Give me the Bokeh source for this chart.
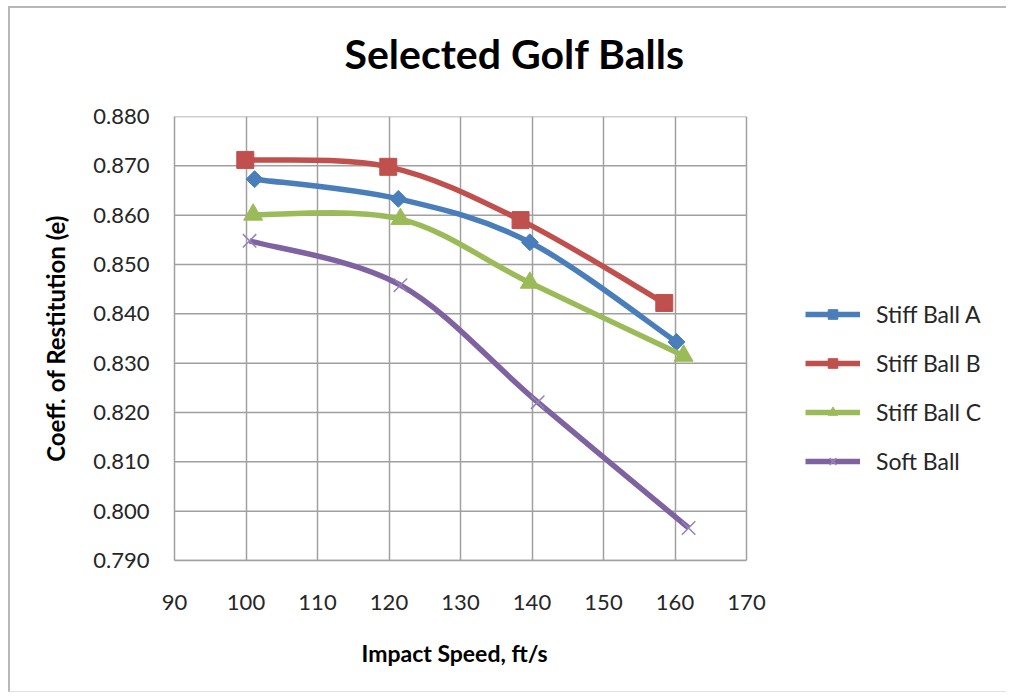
from bokeh.plotting import figure
from bokeh.models import (ColumnDataSource, Legend, LegendItem, FixedTicker,
                          CustomJSTickFormatter, Title)
from bokeh.embed import file_html
from bokeh.resources import INLINE
import numpy as np

# ---- data ----
series_names = ["Stiff Ball A", "Stiff Ball B", "Stiff Ball C", "Soft Ball"]
speed_a = [101.2, 121.3, 139.7, 160.2]
cor_a = [0.8673, 0.8633, 0.8545, 0.8343]
speed_b = [99.9, 119.9, 138.4, 158.5]
cor_b = [0.8712, 0.8698, 0.8590, 0.8422]
speed_c = [101.0, 121.6, 139.7, 161.2]
cor_c = [0.8601, 0.8592, 0.8463, 0.8315]
speed_soft = [100.5, 121.6, 140.8, 161.9]
cor_soft = [0.8548, 0.8458, 0.8221, 0.7966]

x_ticks = [90, 100, 110, 120, 130, 140, 150, 160, 170]
y_ticks = [0.79, 0.80, 0.81, 0.82, 0.83, 0.84, 0.85, 0.86, 0.87, 0.88]

colors = ["#4A7EBB", "#C0504D", "#9BBB59", "#7F63A1"]
markers = ["diamond", "square", "triangle", "x"]

FONT = "Lato"
GRID = "#a0a0a0"

X_MIN, X_MAX = x_ticks[0], x_ticks[-1]
# frame is widened to the right so the legend can sit inside it
W, LEFT = 998, 164
x_end = X_MIN + (W - LEFT) * (X_MAX - X_MIN) / 572.0

p = figure(width=W, height=686, x_range=(X_MIN, x_end), y_range=(0.79, 0.88),
           output_backend="svg", toolbar_location=None,
           min_border_left=LEFT, min_border_right=0,
           min_border_top=108, min_border_bottom=134,
           background_fill_color="white", border_fill_color="white")
p.styles = {"margin-left": "8px", "margin-top": "6px",
            "border-left": "2px solid #b8b8b8", "border-top": "2px solid #b8b8b8",
            "border-bottom": "1px solid #e0e0e0", "border-right": "0px none"}

p.title.text = "Selected Golf Balls"
p.title.text_font = FONT
p.title.text_font_style = "bold"
p.title.text_font_size = "41px"
p.title.text_color = "#000000"
p.title.align = "left"
p.title.offset = 170
p.title.vertical_align = "top"
p.title.standoff = 0
# blank spacer between title and plot area
p.add_layout(Title(text=" ", text_font_size="2px", standoff=33), "above")

p.outline_line_color = None

for ax in (p.xaxis[0], p.yaxis[0]):
    ax.axis_line_color = GRID
    ax.axis_line_width = 1.5
    ax.major_tick_line_color = None
    ax.minor_tick_line_color = None
    ax.major_label_text_font = FONT
    ax.major_label_text_font_size = "22px"
    ax.major_label_text_color = "#262626"
    ax.axis_label_text_font = FONT
    ax.axis_label_text_font_style = "bold"
    ax.axis_label_text_color = "#000000"

p.yaxis.axis_label_text_font_size = "24px"
p.xaxis.bounds = (X_MIN, X_MAX)
p.xaxis.ticker = FixedTicker(ticks=x_ticks)
p.yaxis.ticker = FixedTicker(ticks=y_ticks)
p.yaxis.formatter = CustomJSTickFormatter(code="return tick.toFixed(3);")
p.xaxis.major_label_standoff = 28
p.yaxis.major_label_standoff = 19
p.yaxis.axis_label = "Coeff. of Restitution (e)"
p.yaxis.axis_label_standoff = 20

# x-axis title, centred under the plot area (not under the widened frame)
x_title = Title(text="Impact Speed, ft/s", text_font=FONT, text_font_style="bold",
                text_font_size="23px", text_color="#000000", align="left",
                offset=187, vertical_align="top", standoff=52)
p.add_layout(x_title, "below")

# vertical gridlines (span the full y range = plot area)
p.xgrid.ticker = FixedTicker(ticks=x_ticks)
p.xgrid.grid_line_color = GRID
p.xgrid.grid_line_width = 1.5
# horizontal gridlines limited to the plot area (x 90..170)
p.ygrid.grid_line_color = None
p.segment(x0=[X_MIN] * len(y_ticks), x1=[X_MAX] * len(y_ticks), y0=y_ticks, y1=y_ticks,
          line_color=GRID, line_width=1.5)


def smooth_controls(xs, ys):
    """Bezier control points (Catmull-Rom style, as Excel's smoothed line)."""
    n = len(xs)
    px = [xs[0]] + list(xs) + [xs[-1]]
    py = [ys[0]] + list(ys) + [ys[-1]]
    out = dict(x0=[], y0=[], x1=[], y1=[], cx0=[], cy0=[], cx1=[], cy1=[])
    for i in range(1, n):
        out["x0"].append(px[i]); out["y0"].append(py[i])
        out["x1"].append(px[i + 1]); out["y1"].append(py[i + 1])
        out["cx0"].append(px[i] + (px[i + 1] - px[i - 1]) / 6)
        out["cy0"].append(py[i] + (py[i + 1] - py[i - 1]) / 6)
        out["cx1"].append(px[i + 1] - (px[i + 2] - px[i]) / 6)
        out["cy1"].append(py[i + 1] - (py[i + 2] - py[i]) / 6)
    return out


all_x = [speed_a, speed_b, speed_c, speed_soft]
all_y = [cor_a, cor_b, cor_c, cor_soft]
items = []
for name, xs, ys, col, mk in zip(series_names, all_x, all_y, colors, markers):
    bez = p.bezier(source=ColumnDataSource(smooth_controls(xs, ys)),
                   x0="x0", y0="y0", x1="x1", y1="y1", cx0="cx0", cy0="cy0",
                   cx1="cx1", cy1="cy1", line_color=col, line_width=5.5)
    if mk == "diamond":
        sc = p.scatter(xs, ys, marker="square", size=12, angle=np.pi / 4,
                       fill_color=col, line_color=col)
    elif mk == "square":
        sc = p.scatter(xs, ys, marker="square", size=17, fill_color=col, line_color=col)
    elif mk == "triangle":
        sc = p.scatter(xs, ys, marker="triangle", size=19, fill_color=col, line_color=col)
    else:
        sc = p.scatter(xs, ys, marker="x", size=19, line_color="#9682b8", line_width=1.5)
    items.append(LegendItem(label=name, renderers=[bez, sc], index=0))

legend = Legend(items=items, location=(631, 85), glyph_width=55, glyph_height=24,
                label_standoff=16, spacing=21, padding=0, margin=0, label_height=24,
                label_text_font=FONT, label_text_font_size="23px",
                label_text_color="#262626", border_line_alpha=0,
                background_fill_alpha=0)
p.add_layout(legend, "center")

open("out.html", "w").write(file_html(p, INLINE))
